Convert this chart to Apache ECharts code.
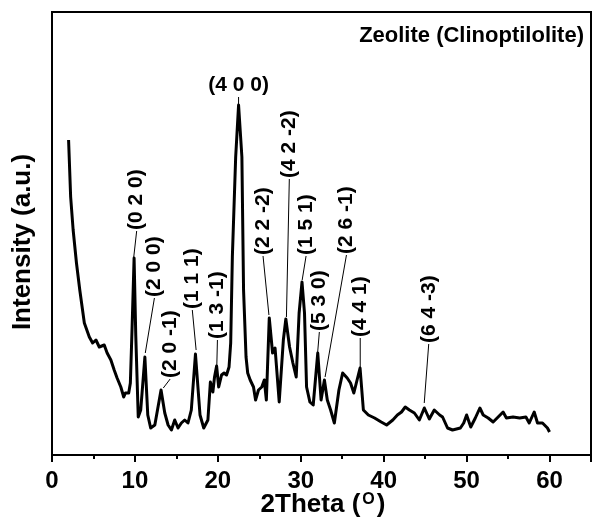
<!DOCTYPE html>
<html>
<head>
<meta charset="utf-8">
<script src="https://cdn.jsdelivr.net/npm/echarts@6/dist/echarts.min.js"></script>
<style>
  html, body { margin: 0; padding: 0; background: #fff; }
  #chart { width: 594px; height: 520px; }
</style>
</head>
<body>
<div id="chart"></div>
<script>
// XRD pattern — Zeolite (Clinoptilolite)
const twoTheta = [
  2.0, 2.25, 2.55, 2.95, 3.35, 3.9, 4.5, 4.9, 5.3, 5.7, 6.3, 6.65, 7.1, 7.5, 7.85, 8.3, 8.65, 8.85, 9.25, 9.45,
  9.65, 9.9, 10.1, 10.4, 10.7, 11.2, 11.55, 11.9, 12.4, 13.15, 13.6, 14.0, 14.4, 14.8, 15.2, 15.6, 16.0, 16.4, 16.8, 17.3,
  17.85, 18.3, 18.8, 19.1, 19.4, 19.6, 19.85, 20.1, 20.45, 20.75, 21.05, 21.35, 21.55, 21.75, 22.15, 22.5, 22.9, 23.1, 23.4, 23.6,
  23.9, 24.3, 24.55, 24.9, 25.3, 25.6, 25.85, 26.2, 26.6, 26.9, 27.4, 27.9, 28.2, 28.65, 29.05, 29.45, 29.8, 30.15, 30.45, 30.7,
  31.1, 31.5, 32.05, 32.45, 32.85, 33.2, 33.6, 34.05, 34.6, 35.05, 35.6, 36.0, 36.4, 37.15, 37.55, 38.15, 38.9, 39.7, 40.35, 41.1,
  41.65, 42.15, 42.6, 43.1, 43.7, 44.3, 44.9, 45.5, 46.1, 46.75, 47.1, 47.7, 48.3, 49.25, 49.65, 50.0, 50.5, 51.05, 51.6, 52.0,
  52.6, 53.2, 53.8, 54.4, 54.8, 55.6, 56.4, 57.15, 57.55, 58.15, 58.55, 59.15, 59.75, 60.0
];
const intensity = [
  315, 258, 225, 192, 165, 132, 118, 112, 115, 108, 110, 102, 95, 85, 77, 68, 58, 62, 62, 72,
  125, 197, 120, 38, 45, 98, 40, 27, 30, 65, 42, 30, 25, 35, 27, 32, 35, 32, 45, 101,
  40, 27, 35, 73, 63, 78, 89, 68, 80, 82, 80, 88, 112, 198, 298, 350, 298, 165, 98, 82,
  75, 68, 55, 65, 68, 75, 55, 137, 102, 107, 53, 115, 136, 108, 92, 78, 142, 173, 142, 68,
  53, 50, 102, 55, 75, 55, 45, 32, 65, 82, 77, 72, 62, 87, 45, 40, 37, 33, 30, 35,
  40, 43, 48, 45, 42, 35, 47, 36, 45, 40, 38, 27, 25, 27, 32, 40, 28, 37, 47, 40,
  37, 33, 38, 43, 37, 38, 37, 38, 32, 43, 32, 32, 27, 23
];

// Miller indices of the indexed reflections
const hklLabels = ['(0 2 0)', '(2 0 0)', '(2 0 -1)', '(1 1 1)', '(1 3 -1)', '(4 0 0)', '(2 2 -2)',
  '(4 2 -2)', '(1 5 1)', '(5 3 0)', '(2 6 -1)', '(4 4 1)', '(6 4 -3)'];
const hklPeakX = [9.86, 11.25, 13.42, 17.38, 19.87, 22.5, 26.16, 28.27, 30.17, 32.03, 32.93, 37.17, 44.89];
const hklPeakY = [198, 102, 67, 105, 88, 350, 140, 138, 175, 102, 78, 88, 52];
const hklTextX = [10.21, 12.35, 14.25, 16.92, 19.95, 22.5, 25.45, 28.62, 30.64, 32.24, 35.51, 37.17, 45.43];
const hklTextY = [224, 157, 76, 145, 115, 358, 199, 276, 199, 123, 200, 117, 111];
const hklFlat = [false, false, false, false, false, true, false, false, false, false, false, false, false];

const xTicks = { min: 0, max: 65, interval: 10 };

const FONT = '"Liberation Sans", Arial, Helvetica, sans-serif';

const chart = echarts.init(document.getElementById('chart'), null, { renderer: 'canvas' });

chart.setOption({
  animation: false,
  backgroundColor: '#fff',
  title: {
    text: 'Zeolite (Clinoptilolite)',
    right: 5,
    top: 20,
    textStyle: { fontFamily: FONT, fontWeight: 'bold', fontSize: 22, color: '#000' }
  },
  graphic: [
    {
      type: 'text',
      x: 23,
      y: 242,
      rotation: Math.PI / 2,
      style: {
        text: 'Intensity (a.u.)',
        fill: '#000',
        font: 'bold 26px ' + FONT,
        align: 'center',
        verticalAlign: 'middle'
      }
    },
    {
      type: 'text',
      x: 323,
      y: 505,
      style: {
        text: '2Theta ({sup|O})',
        fill: '#000',
        font: 'bold 26px ' + FONT,
        align: 'center',
        verticalAlign: 'middle',
        rich: {
          sup: { fill: '#000', font: 'bold 16px ' + FONT, verticalAlign: 'top', padding: [0, 2, 10, 2] }
        }
      }
    }
  ],
  grid: {
    left: 52, top: 12, right: -5, bottom: 65,
    show: true, borderColor: '#000', borderWidth: 2, backgroundColor: 'transparent'
  },
  xAxis: {
    type: 'value',
    min: xTicks.min,
    max: xTicks.max,
    interval: xTicks.interval,
    axisLine: { lineStyle: { color: '#000', width: 2 } },
    axisTick: { inside: false, length: 7, lineStyle: { color: '#000', width: 2 } },
    minorTick: { show: true, splitNumber: 2, length: 4, lineStyle: { color: '#000', width: 2 } },
    axisLabel: {
      margin: 14, fontFamily: FONT, fontWeight: 'bold', fontSize: 24, color: '#000',
      formatter: (v) => (v > 60 ? '' : v)
    },
    splitLine: { show: false }
  },
  yAxis: {
    type: 'value',
    min: 0,
    max: 443,
    axisLine: { show: false },
    axisTick: { show: false },
    axisLabel: { show: false },
    splitLine: { show: false }
  },
  series: [
    {
      type: 'line',
      data: twoTheta.map((t, i) => [t, intensity[i]]),
      showSymbol: false,
      smooth: false,
      lineStyle: { color: '#000', width: 3, join: 'round' },
      z: 3
    },
    {
      type: 'custom',
      clip: false,
      silent: true,
      data: hklLabels.map((_, i) => [hklPeakX[i], hklPeakY[i], hklTextX[i], hklTextY[i]]),
      renderItem: function (params, api) {
        const i = params.dataIndex;
        const a = api.coord([api.value(0), api.value(1)]);
        const b = api.coord([api.value(2), api.value(3)]);
        const flat = hklFlat[i];
        return {
          type: 'group',
          children: [
            {
              type: 'line',
              shape: { x1: a[0], y1: a[1], x2: b[0], y2: b[1] },
              style: { stroke: '#000', lineWidth: 1 }
            },
            {
              type: 'text',
              x: b[0],
              y: b[1] - 1,
              rotation: flat ? 0 : Math.PI / 2,
              style: {
                text: hklLabels[i],
                fill: '#000',
                font: 'bold 21px ' + FONT,
                align: flat ? 'center' : 'left',
                verticalAlign: flat ? 'bottom' : 'middle'
              }
            }
          ]
        };
      },
      z: 4
    }
  ]
});
</script>
</body>
</html>
